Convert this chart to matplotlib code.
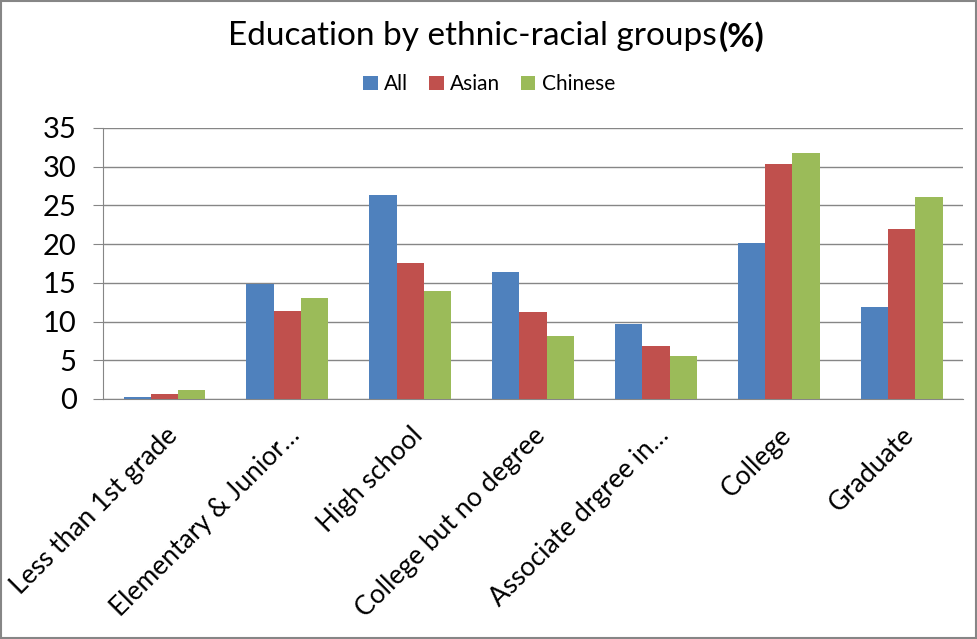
import numpy as np
import matplotlib
matplotlib.use("Agg")
import matplotlib.pyplot as plt
from matplotlib.patches import Rectangle

categories = ["Less than 1st grade", "Elementary & Junior\u2026", "High school",
              "College but no degree", "Associate drgree in\u2026", "College", "Graduate"]
all_vals = [0.2, 14.8, 26.3, 16.4, 9.7, 20.1, 11.9]
asian_vals = [0.7, 11.4, 17.5, 11.2, 6.8, 30.3, 21.9]
chinese_vals = [1.1, 13.0, 14.0, 8.1, 5.5, 31.8, 26.1]
series_names = ["All", "Asian", "Chinese"]
colors = ["#4F81BD", "#C0504D", "#9BBB59"]

plt.rcParams['font.family'] = ['Lato', 'DejaVu Sans']

fig = plt.figure(figsize=(9.78, 6.39), dpi=100)
ax = fig.add_axes([0.1053, 0.3756, 0.8794, 0.4241])

x = np.arange(len(categories))
w = 0.222
for i, (vals, name, c) in enumerate(zip([all_vals, asian_vals, chinese_vals], series_names, colors)):
    ax.bar(x + (i - 1) * w, vals, w, color=c, label=name, zorder=3)

ax.set_xlim(-0.5, len(categories) - 0.5)
ax.set_ylim(0, 35)
ax.set_yticks(range(0, 36, 5))
ax.yaxis.grid(True, color="#868686", linewidth=1, zorder=0)
ax.set_xticks(x)
ax.set_xticklabels(categories, rotation=45, ha="right", va="top",
                   rotation_mode="anchor", fontsize=19)
ax.tick_params(axis="x", length=0, pad=17)
ax.tick_params(axis="y", length=7, color="#868686", labelsize=21, pad=12)

for s in ["top", "right"]:
    ax.spines[s].set_visible(False)
for s in ["left", "bottom"]:
    ax.spines[s].set_color("#868686")

# title: plain text plus bold "(%)"
t = fig.text(0.483, 0.943, "Education by ethnic-racial groups", fontsize=24, ha="center", va="center")
fig.canvas.draw()
bb = t.get_window_extent()
fig.text(bb.x1 / fig.bbox.width + 0.002, 0.943, "(%)", fontsize=24, fontweight="bold",
         ha="left", va="center")

ax.legend(loc="center", bbox_to_anchor=(0.5, 0.868), bbox_transform=fig.transFigure,
          ncol=3, frameon=False, fontsize=15, handlelength=0.7, handleheight=0.7,
          handletextpad=0.3, columnspacing=1.0)

fig.patches.append(Rectangle((0.001, 0.001), 0.997, 0.997, transform=fig.transFigure,
                             fill=False, edgecolor="#868686", linewidth=1.5))

fig.savefig("out.png", dpi=100)
